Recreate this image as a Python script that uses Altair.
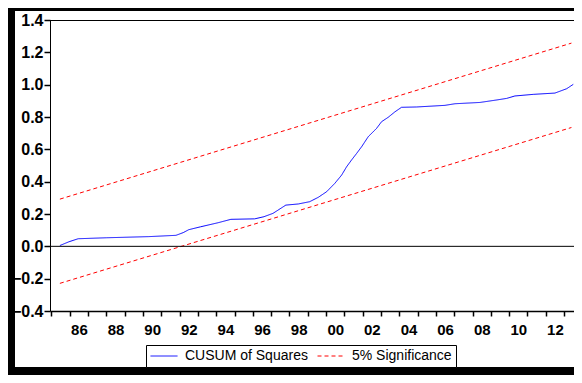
import altair as alt
import pandas as pd

# CUSUM of Squares, x = decimal year
cusum_t = [1984.96, 1985.45, 1985.96, 1987.5, 1989.8, 1991.3, 1991.7, 1992.0, 1992.65,
           1993.6, 1994.3, 1995.6, 1996.1, 1996.6, 1997.3, 1997.98, 1998.6, 1999.07,
           1999.53, 1999.98, 2000.35, 2000.62, 2000.89, 2001.17, 2001.44, 2001.8,
           2002.26, 2002.53, 2002.89, 2003.26, 2003.62, 2004.44, 2005.99, 2006.54,
           2007.9, 2008.8, 2009.36, 2009.81, 2010.81, 2012.0, 2012.64, 2013.0]
cusum_v = [0.005, 0.028, 0.047, 0.053, 0.060, 0.068, 0.085, 0.103, 0.121,
           0.146, 0.167, 0.170, 0.183, 0.204, 0.255, 0.262, 0.276, 0.303,
           0.338, 0.390, 0.441, 0.492, 0.534, 0.575, 0.616, 0.678,
           0.730, 0.771, 0.798, 0.832, 0.860, 0.862, 0.872, 0.882,
           0.890, 0.905, 0.915, 0.930, 0.940, 0.948, 0.975, 1.002]

# 5% significance bounds (straight lines)
bound_t = [1984.96, 2012.9]
upper_v = [0.292, 1.257]
lower_v = [-0.229, 0.735]

series_names = ["CUSUM of Squares", "5% Significance"]
series_colors = ["#0000ff", "#ff0000"]
series_dashes = [[1, 0], [4, 3]]

y_ticks = [-0.4, -0.2, 0.0, 0.2, 0.4, 0.6, 0.8, 1.0, 1.2, 1.4]
x_tick_marks = [y + 0.5 for y in range(1984, 2013)]
x_label_years = list(range(1986, 2013, 2))

rows = []
for t, v in zip(cusum_t, cusum_v):
    rows.append({"t": t, "v": v, "series": series_names[0], "line": "cusum"})
for t, v in zip(bound_t, upper_v):
    rows.append({"t": t, "v": v, "series": series_names[1], "line": "upper"})
for t, v in zip(bound_t, lower_v):
    rows.append({"t": t, "v": v, "series": series_names[1], "line": "lower"})
df = pd.DataFrame(rows)

W, H = 524, 291
FONT = "Liberation Sans"

x_scale = alt.Scale(domain=[1984.42, 2013.04], nice=False, zero=False)
y_scale = alt.Scale(domain=[-0.4, 1.4], nice=False, zero=False)

x_axis = alt.Axis(
    values=x_tick_marks + x_label_years, title=None, grid=False,
    tickSize=5, labelPadding=6, domainColor="black", tickColor="black",
    domainWidth=1.5, tickWidth=1.5,
    labelFont=FONT, labelFontSize=15, labelFontWeight="bold", labelColor="black",
    labelExpr="datum.value % 1 == 0 ? format(datum.value % 100, '02d') : ''",
    labelOverlap=False, labelFlush=False,
    tickOpacity={"condition": {"test": "datum.value % 1 != 0", "value": 1}, "value": 0},
)
y_axis = alt.Axis(
    values=y_ticks, title=None, grid=False, format=".1f",
    tickSize=6, labelPadding=1, domainColor="black", tickColor="black",
    tickWidth=1.5,
    labelFont=FONT, labelFontSize=16, labelFontWeight="bold", labelColor="black",
    labelOverlap=False, labelFlush=False,
)

legend = alt.Legend(
    title=None, orient="none", legendX=96, legendY=325, direction="horizontal",
    symbolType="stroke", symbolSize=729, symbolStrokeWidth=1,
    labelFont=FONT, labelFontSize=14, labelColor="black", labelOffset=7,
    columnPadding=9, padding=4, strokeColor="black", fillColor="white",
    clipHeight=14, labelLimit=0,
)

lines = alt.Chart(df).mark_line(strokeWidth=1).encode(
    x=alt.X("t:Q", scale=x_scale, axis=x_axis),
    y=alt.Y("v:Q", scale=y_scale, axis=y_axis),
    color=alt.Color("series:N", scale=alt.Scale(domain=series_names, range=series_colors), legend=legend),
    strokeDash=alt.StrokeDash("series:N", scale=alt.Scale(domain=series_names, range=series_dashes), legend=legend),
    detail="line:N",
)

zero_rule = alt.Chart(pd.DataFrame({"z": [0.0]})).mark_rule(color="black", strokeWidth=1).encode(
    y=alt.Y("z:Q", scale=y_scale, axis=y_axis)
)

one = pd.DataFrame({"k": [0]})
top_border = alt.Chart(one).mark_rect(color="black").encode(
    x=alt.value(0), x2=alt.value(W), y=alt.value(0), y2=alt.value(1)
)
left_band = alt.Chart(one).mark_rect(color="black").encode(
    x=alt.value(-42), x2=alt.value(-35), y=alt.value(-12), y2=alt.value(355)
)
top_band = alt.Chart(one).mark_rect(color="black").encode(
    x=alt.value(-42), x2=alt.value(W), y=alt.value(-12), y2=alt.value(-9)
)
bottom_band = alt.Chart(one).mark_rect(color="black").encode(
    x=alt.value(-42), x2=alt.value(W), y=alt.value(347), y2=alt.value(355)
)

chart = alt.layer(lines, zero_rule, top_border, left_band, top_band, bottom_band).properties(
    width=W, height=H,
    autosize=alt.AutoSizeParams(type="none"),
    padding={"left": 42, "top": 12, "right": 0, "bottom": 64},
    background="white",
).configure_view(strokeWidth=0, stroke="transparent")

chart.save("out.html", embed_options={"renderer": "svg", "actions": False})
